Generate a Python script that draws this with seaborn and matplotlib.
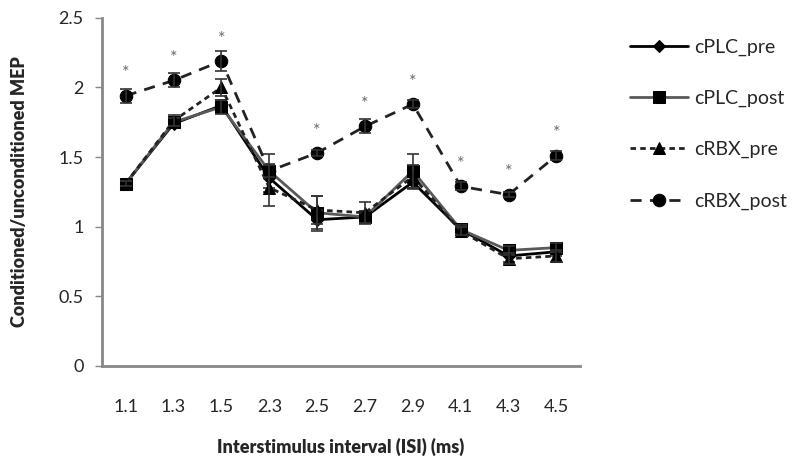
import numpy as np
import pandas as pd
import matplotlib
matplotlib.use("Agg")
import matplotlib.pyplot as plt
import seaborn as sns

# ----- Data -----
isi = ["1.1", "1.3", "1.5", "2.3", "2.5", "2.7", "2.9", "4.1", "4.3", "4.5"]

cplc_pre = [1.31, 1.74, 1.87, 1.35, 1.05, 1.07, 1.32, 0.98, 0.79, 0.82]
cplc_post = [1.31, 1.75, 1.86, 1.40, 1.10, 1.07, 1.40, 0.98, 0.83, 0.85]
crbx_pre = [1.31, 1.76, 2.00, 1.28, 1.12, 1.10, 1.36, 0.97, 0.77, 0.79]
crbx_post = [1.94, 2.05, 2.19, 1.40, 1.53, 1.72, 1.88, 1.29, 1.23, 1.51]

cplc_pre_err = [0.02, 0.03, 0.04, 0.10, 0.08, 0.04, 0.05, 0.03, 0.04, 0.03]
cplc_post_err = [0.02, 0.03, 0.05, 0.12, 0.12, 0.04, 0.12, 0.03, 0.03, 0.03]
crbx_pre_err = [0.02, 0.04, 0.06, 0.13, 0.10, 0.08, 0.08, 0.03, 0.04, 0.04]
crbx_post_err = [0.05, 0.05, 0.07, 0.04, 0.02, 0.05, 0.03, 0.03, 0.02, 0.03]

significant = [True, True, True, False, True, True, True, True, True, True]

# ----- Style -----
sns.set_style("white")
plt.rcParams["font.family"] = ["Lato", "DejaVu Sans"]

fig = plt.figure(figsize=(7.95, 4.68), dpi=100)
ax = fig.add_axes([0.128, 0.218, 0.602, 0.744])

pos = np.arange(len(isi))
series = [
    ("cPLC_pre", cplc_pre, cplc_pre_err, "black", "-", "D", 6),
    ("cPLC_post", cplc_post, cplc_post_err, "#5a5a5a", "-", "s", 8),
    ("cRBX_pre", crbx_pre, crbx_pre_err, "#222222", (0, (2, 1.5)), "^", 8),
    ("cRBX_post", crbx_post, crbx_post_err, "#222222", (0, (4, 3)), "o", 9),
]

for name, vals, err, col, ls, mk, ms in series:
    df = pd.DataFrame({"pos": pos, "val": vals})
    sns.lineplot(data=df, x="pos", y="val", ax=ax, color=col, linestyle=ls,
                 linewidth=2, marker=mk, markersize=ms, markerfacecolor="black",
                 markeredgecolor="black", label=name, legend=False)
    ax.errorbar(pos, vals, yerr=err, fmt="none", ecolor="#333333",
                elinewidth=1.2, capsize=4, capthick=1.2)

# significance asterisks
for p, v, s in zip(pos, crbx_post, significant):
    if s:
        ax.text(p, v + 0.16, "*", ha="center", va="center", fontsize=13,
                color="#6a6a7a")

ax.set_xlim(-0.5, len(isi) - 0.5)
ax.set_ylim(0, 2.5)
ax.set_yticks([0, 0.5, 1, 1.5, 2, 2.5])
ax.set_yticklabels(["0", "0.5", "1", "1.5", "2", "2.5"], fontsize=13)
ax.set_xticks(pos)
ax.set_xticklabels(isi, fontsize=13)
ax.set_xticks(np.arange(-0.5, len(isi), 1), minor=True)
ax.tick_params(axis="x", which="major", length=0, pad=24)
ax.tick_params(axis="x", which="minor", length=5, color="#888888", width=1)
ax.tick_params(axis="y", length=5, color="#888888", width=1, direction="out",
               left=True, pad=8)

for side in ["top", "right"]:
    ax.spines[side].set_visible(False)
for side in ["left", "bottom"]:
    ax.spines[side].set_color("#888888")
    ax.spines[side].set_linewidth(2)

ax.set_xlabel("Interstimulus interval (ISI) (ms)", fontsize=13, fontweight="heavy",
              labelpad=16)
ax.set_ylabel("Conditioned/unconditioned MEP", fontsize=13, fontweight="heavy",
              labelpad=22)

handles, labels = ax.get_legend_handles_labels()
fig.legend(handles, labels, loc="upper left", bbox_to_anchor=(0.77, 0.955),
           frameon=False, fontsize=14, labelspacing=1.75, handlelength=3,
           handletextpad=0.3)

fig.savefig("out.png", dpi=100)
